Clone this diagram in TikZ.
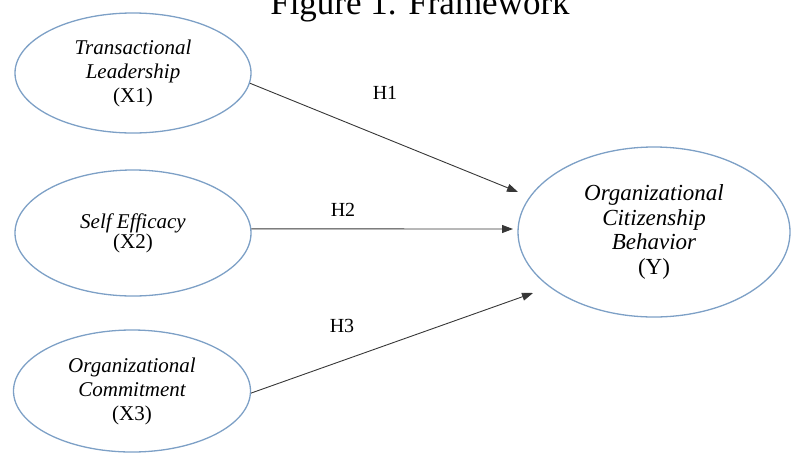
\documentclass[tikz,border=0pt]{standalone}
\usepackage{fontspec}
\setmainfont{Liberation Serif}
\usetikzlibrary{shapes.geometric,arrows.meta}
\definecolor{ovalblue}{RGB}{125,160,198}
\definecolor{arrowgray}{RGB}{55,55,55}
\tikzset{
  var/.style={ellipse,draw=ovalblue,line width=1.3pt,inner sep=0pt,align=center,
    font=\fontsize{21}{24}\selectfont\itshape},
  hyp/.style={draw=arrowgray,line width=0.9pt,-{Triangle[length=11pt,width=8pt]}},
  hlbl/.style={font=\fontsize{20}{24}\selectfont}
}
\begin{document}
\begin{tikzpicture}[x=1pt,y=-1pt]
\useasboundingbox (0,0) rectangle (794,453);
\clip (0,0) rectangle (794,453);
% title, cut at the top edge
\node[font=\fontsize{35}{40}\selectfont,anchor=base] (title) at (420,14) {Figure 1. Framework};
% variables
\node[var,minimum width=236pt,minimum height=120pt] (x1) at (133,73) {Transactional\\Leadership\\{\upshape (X1)}};
\node[var,minimum width=236pt,minimum height=126pt,font=\fontsize{21}{20}\selectfont\itshape] (x2) at (133,233) {Self Efficacy\\{\upshape (X2)}};
\node[var,minimum width=237pt,minimum height=122pt] (x3) at (132,391) {Organizational\\Commitment\\{\upshape (X3)}};
\node[var,minimum width=272pt,minimum height=170pt,font=\fontsize{23}{24.5}\selectfont\itshape] (y) at (654,232) {Organizational\\Citizenship\\Behavior\\{\upshape (Y)}};
% arrow tips stop short of Y
\coordinate (h1tip) at (518,192);
\coordinate (h2tip) at (513,229);
\coordinate (h3tip) at (533,293);
\draw[hyp] (x1.-5) -- (h1tip);
\draw[hyp] (x2.2) -- (h2tip);
\draw[hyp] (x3.-1) -- (h3tip);
\node[hlbl] (h1) at (385,93) {H1};
\node[hlbl] (h2) at (343,210) {H2};
\node[hlbl] (h3) at (342,326) {H3};
\end{tikzpicture}
\end{document}
